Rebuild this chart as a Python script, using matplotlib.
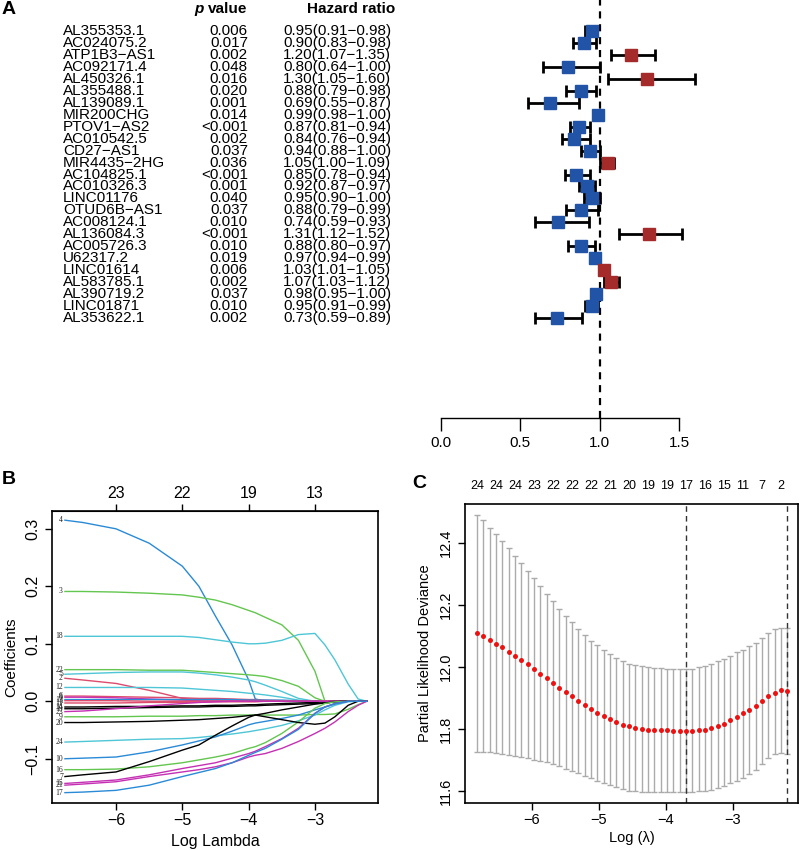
import numpy as np
import matplotlib
matplotlib.use('Agg')
import matplotlib.pyplot as plt
import matplotlib.transforms as mtransforms

plt.rcParams['font.family'] = ['Liberation Sans', 'DejaVu Sans']

# ---------------- Panel A data ----------------
genes = ['AL355353.1', 'AC024075.2', 'ATP1B3-AS1', 'AC092171.4', 'AL450326.1',
         'AL355488.1', 'AL139089.1', 'MIR200CHG', 'PTOV1-AS2', 'AC010542.5',
         'CD27-AS1', 'MIR4435-2HG', 'AC104825.1', 'AC010326.3', 'LINC01176',
         'OTUD6B-AS1', 'AC008124.1', 'AL136084.3', 'AC005726.3', 'U62317.2',
         'LINC01614', 'AL583785.1', 'AL390719.2', 'LINC01871', 'AL353622.1']
p_values = ['0.006', '0.017', '0.002', '0.048', '0.016', '0.020', '0.001', '0.014',
            '<0.001', '0.002', '0.037', '0.036', '<0.001', '0.001', '0.040', '0.037',
            '0.010', '<0.001', '0.010', '0.019', '0.006', '0.002', '0.037', '0.010', '0.002']
hr = [0.95, 0.90, 1.20, 0.80, 1.30, 0.88, 0.69, 0.99, 0.87, 0.84, 0.94, 1.05, 0.85,
      0.92, 0.95, 0.88, 0.74, 1.31, 0.88, 0.97, 1.03, 1.07, 0.98, 0.95, 0.73]
hr_low = [0.91, 0.83, 1.07, 0.64, 1.05, 0.79, 0.55, 0.98, 0.81, 0.76, 0.88, 1.00, 0.78,
          0.87, 0.90, 0.79, 0.59, 1.12, 0.80, 0.94, 1.01, 1.03, 0.95, 0.91, 0.59]
hr_high = [0.98, 0.98, 1.35, 1.00, 1.60, 0.98, 0.87, 1.00, 0.94, 0.94, 1.00, 1.09, 0.94,
           0.97, 1.00, 0.99, 0.93, 1.52, 0.97, 0.99, 1.05, 1.12, 1.00, 0.99, 0.89]
forest_ticks = [0.0, 0.5, 1.0, 1.5]

# ---------------- Panel B data ----------------
log_lambda_b = [-6.77, -6.5, -6.0, -5.5, -5.0, -4.75, -4.5, -4.25, -4.0, -3.9,
                -3.75, -3.5, -3.25, -3.0, -2.85, -2.7, -2.5, -2.35, -2.22]
coef_labels = ['4', '3', '18', '22', '5', '2', '12', '6', '8', '13', '1', '11',
               '14', '19', '23', '9', '20', '24', '10', '16', '7', '15', '21', '17']
coef_colors = ['blue', 'green', 'cyan', 'green', 'cyan', 'red', 'cyan', 'red', 'magenta',
               'blue', 'red', 'red', 'black', 'black', 'magenta', 'green', 'black', 'cyan',
               'blue', 'green', 'black', 'magenta', 'magenta', 'blue']
coef_paths = [
    [0.315, 0.311, 0.300, 0.275, 0.235, 0.200, 0.148, 0.098, 0.037, 0.004, 0, 0, 0, 0, 0, 0, 0, 0, 0],
    [0.191, 0.191, 0.190, 0.188, 0.185, 0.181, 0.176, 0.168, 0.158, 0.154, 0.146, 0.133, 0.106, 0.052, 0, 0, 0, 0, 0],
    [0.113, 0.113, 0.113, 0.113, 0.113, 0.111, 0.107, 0.103, 0.100, 0.100, 0.101, 0.106, 0.116, 0.118, 0.098, 0.072, 0.030, 0.004, 0],
    [0.055, 0.055, 0.055, 0.054, 0.054, 0.052, 0.050, 0.048, 0.046, 0.045, 0.043, 0.036, 0.026, 0.006, 0, 0, 0, 0, 0],
    [0.047, 0.048, 0.050, 0.051, 0.051, 0.049, 0.046, 0.042, 0.037, 0.034, 0.028, 0.017, 0.005, 0, 0, 0, 0, 0, 0],
    [0.040, 0.037, 0.031, 0.019, 0.005, 0.003, 0.002, 0.002, 0.001, 0.001, 0.001, 0, 0, 0, 0, 0, 0, 0, 0],
    [0.024, 0.024, 0.024, 0.024, 0.023, 0.021, 0.019, 0.017, 0.014, 0.013, 0.011, 0.007, 0.002, 0, 0, 0, 0, 0, 0],
    [0.009, 0.009, 0.008, 0.007, 0.006, 0.005, 0.005, 0.004, 0.003, 0.003, 0.002, 0.001, 0, 0, 0, 0, 0, 0, 0],
    [0.007, 0.007, 0.006, 0.004, 0.002, 0.001, 0, 0, 0, 0, 0, 0, 0, 0, 0, 0, 0, 0, 0],
    [0.003, 0.003, 0.003, 0.003, 0.003, 0.003, 0.003, 0.003, 0.002, 0.002, 0.002, 0.002, 0.001, 0.001, 0, 0, 0, 0, 0],
    [0.001, 0.001, 0.001, 0, 0, 0, 0, 0, 0, 0, 0, 0, 0, 0, 0, 0, 0, 0, 0],
    [-0.003, -0.003, -0.003, -0.002, -0.002, -0.002, -0.001, -0.001, -0.001, -0.001, 0, 0, 0, 0, 0, 0, 0, 0, 0],
    [-0.010, -0.010, -0.009, -0.009, -0.008, -0.008, -0.007, -0.007, -0.006, -0.006, -0.005, -0.004, -0.003, -0.002, -0.001, 0, 0, 0, 0],
    [-0.013, -0.013, -0.012, -0.011, -0.010, -0.010, -0.009, -0.009, -0.008, -0.008, -0.007, -0.006, -0.005, -0.004, -0.003, -0.001, 0, 0, 0],
    [-0.018, -0.017, -0.013, -0.008, -0.004, -0.002, -0.001, 0, 0, 0, 0, 0, 0, 0, 0, 0, 0, 0, 0],
    [-0.027, -0.027, -0.027, -0.026, -0.026, -0.025, -0.025, -0.024, -0.024, -0.024, -0.024, -0.024, -0.024, -0.023, -0.023, -0.022, -0.014, -0.006, 0],
    [-0.037, -0.037, -0.036, -0.035, -0.033, -0.032, -0.030, -0.028, -0.025, -0.024, -0.021, -0.015, -0.010, -0.005, -0.003, -0.001, 0, 0, 0],
    [-0.071, -0.070, -0.068, -0.066, -0.065, -0.063, -0.060, -0.057, -0.053, -0.051, -0.048, -0.042, -0.034, -0.024, -0.015, -0.007, -0.001, 0, 0],
    [-0.100, -0.099, -0.097, -0.088, -0.076, -0.069, -0.062, -0.052, -0.041, -0.038, -0.035, -0.030, -0.024, -0.015, -0.010, -0.005, 0, 0, 0],
    [-0.119, -0.119, -0.118, -0.114, -0.107, -0.102, -0.097, -0.091, -0.082, -0.079, -0.072, -0.056, -0.036, -0.012, -0.004, -0.001, 0, 0, 0],
    [-0.131, -0.128, -0.123, -0.105, -0.085, -0.076, -0.059, -0.043, -0.028, -0.024, -0.027, -0.032, -0.037, -0.040, -0.038, -0.027, -0.007, 0, 0],
    [-0.143, -0.141, -0.137, -0.128, -0.117, -0.112, -0.107, -0.099, -0.091, -0.087, -0.079, -0.065, -0.047, -0.021, -0.010, -0.004, 0, 0, 0],
    [-0.146, -0.144, -0.140, -0.131, -0.123, -0.119, -0.114, -0.107, -0.097, -0.094, -0.091, -0.082, -0.070, -0.056, -0.047, -0.036, -0.018, -0.007, 0],
    [-0.159, -0.158, -0.155, -0.146, -0.131, -0.124, -0.117, -0.107, -0.094, -0.089, -0.082, -0.066, -0.049, -0.021, -0.010, -0.004, 0, 0, 0],
]
b_xticks = [-6, -5, -4, -3]
b_top_labels = ['23', '22', '19', '13']
b_yticks = [-0.1, 0.0, 0.1, 0.2, 0.3]

# ---------------- Panel C data ----------------
cv_lambda_first, cv_lambda_last, cv_n = -6.82, -2.19, 50
cv_mean = [12.110, 12.099, 12.087, 12.075, 12.063, 12.049, 12.035, 12.022, 12.008, 11.994,
           11.978, 11.964, 11.948, 11.933, 11.919, 11.905, 11.891, 11.878, 11.865, 11.853,
           11.843, 11.832, 11.821, 11.813, 11.808, 11.804, 11.801, 11.798, 11.797, 11.796,
           11.795, 11.794, 11.794, 11.794, 11.794, 11.796, 11.798, 11.802, 11.808, 11.817,
           11.828, 11.839, 11.851, 11.862, 11.874, 11.889, 11.906, 11.916, 11.925, 11.923]
cv_upper = [12.492, 12.473, 12.450, 12.428, 12.405, 12.383, 12.357, 12.334, 12.309, 12.286,
            12.262, 12.236, 12.212, 12.188, 12.166, 12.146, 12.124, 12.104, 12.085, 12.070,
            12.055, 12.041, 12.030, 12.019, 12.011, 12.006, 12.003, 12.000, 11.998, 11.996,
            11.995, 11.994, 11.994, 11.992, 11.994, 11.999, 12.004, 12.011, 12.019, 12.027,
            12.037, 12.047, 12.056, 12.067, 12.079, 12.094, 12.110, 12.121, 12.126, 12.125]
cv_lower = [11.727, 11.726, 11.724, 11.722, 11.719, 11.715, 11.712, 11.709, 11.706, 11.701,
            11.697, 11.693, 11.686, 11.681, 11.672, 11.665, 11.657, 11.649, 11.641, 11.633,
            11.627, 11.620, 11.613, 11.606, 11.601, 11.599, 11.597, 11.597, 11.597, 11.597,
            11.597, 11.597, 11.597, 11.597, 11.597, 11.599, 11.600, 11.604, 11.611, 11.617,
            11.625, 11.633, 11.642, 11.653, 11.669, 11.686, 11.705, 11.718, 11.722, 11.720]
nonzero_counts = ['24', '24', '24', '23', '22', '22', '22', '21', '20', '19', '19',
                  '17', '16', '15', '11', '7', '2']
lambda_min_index = 33
lambda_1se_index = 49
c_xticks = [-6, -5, -4, -3]
c_yticks = [11.6, 11.8, 12.0, 12.2, 12.4]

# ---------------- Figure ----------------
W, H = 800, 850
fig = plt.figure(figsize=(8, 8.5), dpi=100)

def fx(px):
    return px / W

def fy(py):
    return 1 - py / H

# Panel A -----------------------------------------------------------
row_top, row_step = 31, 11.96
axA_left, axA_right, axA_bottom = 441, 679, 418
axA = fig.add_axes([fx(axA_left), fy(axA_bottom), (axA_right - axA_left) / W, axA_bottom / H])
axA.set_xlim(0, 1.5)
axA.set_ylim((axA_bottom - row_top) / row_step, -row_top / row_step)
for s in ['left', 'right', 'top']:
    axA.spines[s].set_visible(False)
axA.spines['bottom'].set_linewidth(1.0)
axA.set_yticks([])
axA.set_xticks(forest_ticks)
axA.set_xticklabels(['%.1f' % t for t in forest_ticks], fontsize=11)
axA.tick_params(axis='x', length=9, width=1.0, pad=4)
axA.axvline(1.0, color='black', lw=1.6, ls=(0, (3.2, 2.6)), zorder=1)

rows = np.arange(len(genes))
hr_a = np.array(hr)
axA.errorbar(hr_a, rows, xerr=[hr_a - np.array(hr_low), np.array(hr_high) - hr_a],
             fmt='none', ecolor='black', elinewidth=2.0, capsize=4.5, capthick=2.0,
             clip_on=False, zorder=2)
colors_a = ['#A52A2A' if v > 1 else '#2153A6' for v in hr]
for r, v, c in zip(rows, hr, colors_a):
    axA.plot(v, r, 's', ms=9, color=c, mec=c, clip_on=False, zorder=3)

tr = mtransforms.blended_transform_factory(fig.transFigure, axA.transData)
for r, g, p, v, lo, hi in zip(rows, genes, p_values, hr, hr_low, hr_high):
    axA.text(fx(63), r, g.replace('-', '\u2212'), transform=tr, ha='left', va='center', fontsize=11)
    axA.text(fx(248), r, p, transform=tr, ha='right', va='center', fontsize=11)
    axA.text(fx(391), r, ('%.2f(%.2f-%.2f)' % (v, lo, hi)).replace('-', '\u2212'),
             transform=tr, ha='right', va='center', fontsize=11)
hdr_y = (9 - row_top) / row_step
axA.text(fx(194), hdr_y, 'p', transform=tr, ha='left', va='center', fontsize=11,
         fontweight='bold', fontstyle='italic')
axA.text(fx(208), hdr_y, 'value', transform=tr, ha='left', va='center', fontsize=11,
         fontweight='bold')
axA.text(fx(395), hdr_y, 'Hazard ratio', transform=tr, ha='right', va='center', fontsize=11,
         fontweight='bold')
fig.text(fx(2), fy(9), 'A', fontsize=14, fontweight='bold', ha='left', va='center')

# Panel B -----------------------------------------------------------
palette = {'black': '#000000', 'red': '#DD4C6C', 'green': '#63C64F', 'blue': '#2A8AD6',
           'cyan': '#4EC6D6', 'magenta': '#C530B4'}
axB = fig.add_axes([fx(52), fy(803), (378 - 52) / W, (803 - 511) / H])
xb = np.array(log_lambda_b)
for lab, col, path in zip(coef_labels, coef_colors, coef_paths):
    axB.plot(xb, path, color=palette[col], lw=1.0)
    axB.text(xb[0] - 0.03, path[0], lab, ha='right', va='center', fontsize=5.5,
             family='Liberation Serif', color='#222222')
axB.set_xlim(-6.965, -2.05)
axB.set_ylim(-0.177, 0.331)
axB.set_xticks(b_xticks)
axB.set_xticklabels(['\u2212%d' % abs(t) for t in b_xticks])
axB.set_yticks(b_yticks)
axB.set_yticklabels(['\u22120.1' if t < 0 else '%.1f' % t for t in b_yticks])
axB.tick_params(axis='both', labelsize=11.5, length=5, width=1.0, direction='out')
axB.tick_params(axis='x', pad=2)
plt.setp(axB.get_yticklabels(), rotation=90, va='center', ha='right')
for s in axB.spines.values():
    s.set_linewidth(1.2)
axB.set_xlabel('Log Lambda', fontsize=11.5)
axB.xaxis.set_label_coords(0.5, -0.105)
axB.set_ylabel('Coefficients', fontsize=11)
axB.yaxis.set_label_coords(-0.105, 0.5)
secB = axB.secondary_xaxis('top')
secB.set_xticks(b_xticks)
secB.set_xticklabels(b_top_labels)
secB.tick_params(labelsize=11.5, length=5, width=1.0, pad=2)
fig.text(fx(2), fy(480), 'B', fontsize=14, fontweight='bold', ha='left', va='center')

# Panel C -----------------------------------------------------------
axC = fig.add_axes([fx(465), fy(803), (798 - 465) / W, (803 - 504) / H])
xc = np.linspace(cv_lambda_first, cv_lambda_last, cv_n)
mean_c = np.array(cv_mean)
axC.errorbar(xc, mean_c, yerr=[mean_c - np.array(cv_lower), np.array(cv_upper) - mean_c],
             fmt='none', ecolor='#ABABAB', elinewidth=1.0, capsize=2.2, capthick=1.0, zorder=1)
axC.plot(xc, mean_c, 'o', color='#EE1111', ms=3.6, mec='none', zorder=3)
for idx in (lambda_min_index, lambda_1se_index):
    axC.axvline(xc[idx], color='#333333', lw=1.0, ls=(0, (4, 3)), zorder=2)
axC.set_xlim(-7.0, -2.03)
axC.set_ylim(11.561, 12.526)
axC.set_xticks(c_xticks)
axC.set_xticklabels(['\u2212%d' % abs(t) for t in c_xticks])
axC.set_yticks(c_yticks)
axC.set_yticklabels(['%.1f' % t for t in c_yticks])
axC.tick_params(axis='both', labelsize=10.5, length=5, width=1.0, direction='out')
axC.tick_params(axis='x', pad=2)
plt.setp(axC.get_yticklabels(), rotation=90, va='center', ha='right')
for s in axC.spines.values():
    s.set_linewidth(1.2)
axC.set_xlabel('Log (\u03bb)', fontsize=10.5)
axC.xaxis.set_label_coords(0.5, -0.095)
axC.set_ylabel('Partial Likelihood Deviance', fontsize=10.5)
axC.yaxis.set_label_coords(-0.10, 0.5)
trC = mtransforms.blended_transform_factory(axC.transData, axC.transAxes)
for k, lab in enumerate(nonzero_counts):
    axC.text(xc[3 * k], 1.06, lab, transform=trC, ha='center', va='center', fontsize=9)
fig.text(fx(412), fy(483), 'C', fontsize=14, fontweight='bold', ha='left', va='center')

fig.savefig('out.png', dpi=100)
